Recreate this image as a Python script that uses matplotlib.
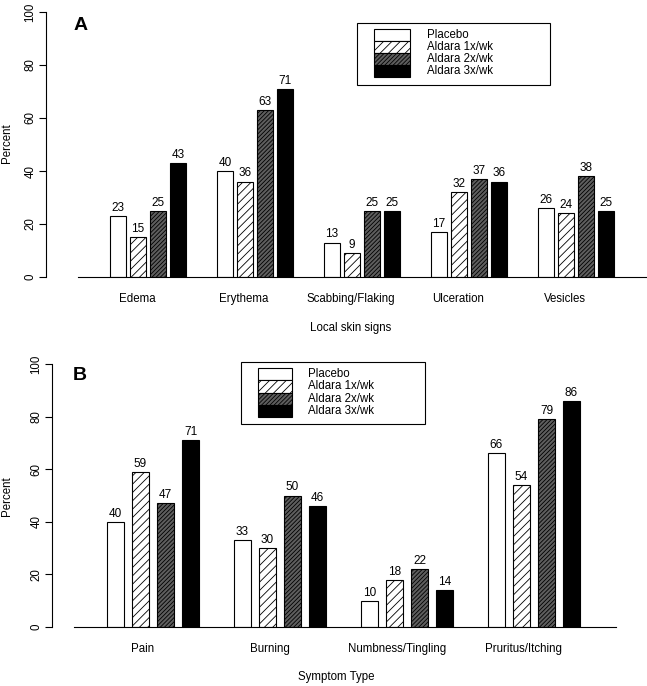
import matplotlib
matplotlib.use("Agg")
import matplotlib.pyplot as plt
import numpy as np
from matplotlib.patches import Rectangle

# --- data ---
SERIES = ['Placebo', 'Aldara 1x/wk', 'Aldara 2x/wk', 'Aldara 3x/wk']

SKIN_SIGNS = ['Edema', 'Erythema', 'Scabbing/Flaking', 'Ulceration', 'Vesicles']
SKIN_PLACEBO = [23, 40, 13, 17, 26]
SKIN_1X = [15, 36, 9, 32, 24]
SKIN_2X = [25, 63, 25, 37, 38]
SKIN_3X = [43, 71, 25, 36, 25]

SYMPTOMS = ['Pain', 'Burning', 'Numbness/Tingling', 'Pruritus/Itching']
SYM_PLACEBO = [40, 33, 10, 66]
SYM_1X = [59, 30, 18, 54]
SYM_2X = [47, 50, 22, 79]
SYM_3X = [71, 46, 14, 86]

W, H = 647, 686
plt.rcParams['font.family'] = ['Liberation Sans', 'DejaVu Sans']
plt.rcParams['hatch.linewidth'] = 0.6

STYLES = [
    dict(facecolor='white', hatch=None),
    dict(facecolor='white', hatch='////'),
    dict(facecolor='#5e5e5e', hatch='////////'),
    dict(facecolor='black', hatch=None),
]

fig = plt.figure(figsize=(W / 100, H / 100), dpi=100)


def px_axes(x0, x1, y_top, y_bot):
    return fig.add_axes([x0 / W, 1 - y_bot / H, (x1 - x0) / W, (y_bot - y_top) / H])


def draw_panel(ax, cats, values, first, spacing, pitch, width, line_pad, lab_off):
    ax.set_xlim(0, ax.bbox.width)
    ax.set_ylim(0, 100)
    centers = first + spacing * np.arange(len(cats))
    for j, vals in enumerate(values):
        xs = centers + (j - 1.5) * pitch
        ax.bar(xs, vals, width=width, edgecolor='black', linewidth=0.8,
               **STYLES[j])
        for x, v in zip(xs, vals):
            ax.text(x, v + 0.8, str(v), ha='center', va='bottom', fontsize=8.5)
    ax.plot([centers[0] - line_pad[0], centers[-1] + line_pad[1]], [0, 0],
            color='black', lw=0.8, clip_on=False)
    for x, c in zip(centers, cats):
        ax.text(x - lab_off, -6, c, ha='center', va='top', fontsize=8.3)
    for s in ['top', 'right', 'bottom']:
        ax.spines[s].set_visible(False)
    ax.spines['left'].set_linewidth(0.8)
    ax.set_xticks([])
    ax.set_yticks(np.arange(0, 101, 20))
    ax.tick_params(axis='y', length=5, width=0.8, labelsize=8.3, pad=2)
    for t in ax.get_yticklabels():
        t.set_rotation(90)
        t.set_va('center')
    ax.patch.set_visible(False)
    return centers


def draw_legend(x0, y0, x1, y1, px, pw, row, tx):
    fig.add_artist(Rectangle((x0 / W, 1 - y1 / H), (x1 - x0) / W, (y1 - y0) / H,
                             transform=fig.transFigure, fill=False,
                             edgecolor='black', lw=0.8))
    top = y0 + 6
    for j, name in enumerate(SERIES):
        yb = top + (j + 1) * row
        fig.add_artist(Rectangle((px / W, 1 - yb / H), pw / W, row / H,
                                 transform=fig.transFigure, edgecolor='black',
                                 lw=0.8, **STYLES[j]))
        fig.text(tx / W, 1 - (yb - row / 2) / H, name, ha='left',
                 va='center', fontsize=8.3)


# --- panel A ---
axA = px_axes(46, 647, 12, 277)
draw_panel(axA, SKIN_SIGNS, [SKIN_PLACEBO, SKIN_1X, SKIN_2X, SKIN_3X],
           first=102, spacing=107, pitch=20, width=16.5,
           line_pad=(70, 71), lab_off=11)
fig.text(7 / W, 1 - 143 / H, 'Percent', rotation=90, ha='center', va='center', fontsize=8.3)
fig.text(351 / W, 1 - 328 / H, 'Local skin signs', ha='center', va='center', fontsize=8.3)
fig.text(74 / W, 1 - 26 / H, 'A', ha='left', va='center', fontsize=14, fontweight='bold')
draw_legend(357, 23, 550, 85, 374, 36, 12, 427)

# --- panel B ---
axB = px_axes(52, 647, 364, 627)
draw_panel(axB, SYMPTOMS, [SYM_PLACEBO, SYM_1X, SYM_2X, SYM_3X],
           first=101, spacing=127, pitch=25, width=17,
           line_pad=(79, 82), lab_off=10)
fig.text(7 / W, 1 - 496 / H, 'Percent', rotation=90, ha='center', va='center', fontsize=8.3)
fig.text(336 / W, 1 - 677 / H, 'Symptom Type', ha='center', va='center', fontsize=8.3)
fig.text(73 / W, 1 - 376 / H, 'B', ha='left', va='center', fontsize=14, fontweight='bold')
draw_legend(241, 362, 425, 424, 258, 34, 12.3, 308)

fig.savefig('out.png', dpi=100)
